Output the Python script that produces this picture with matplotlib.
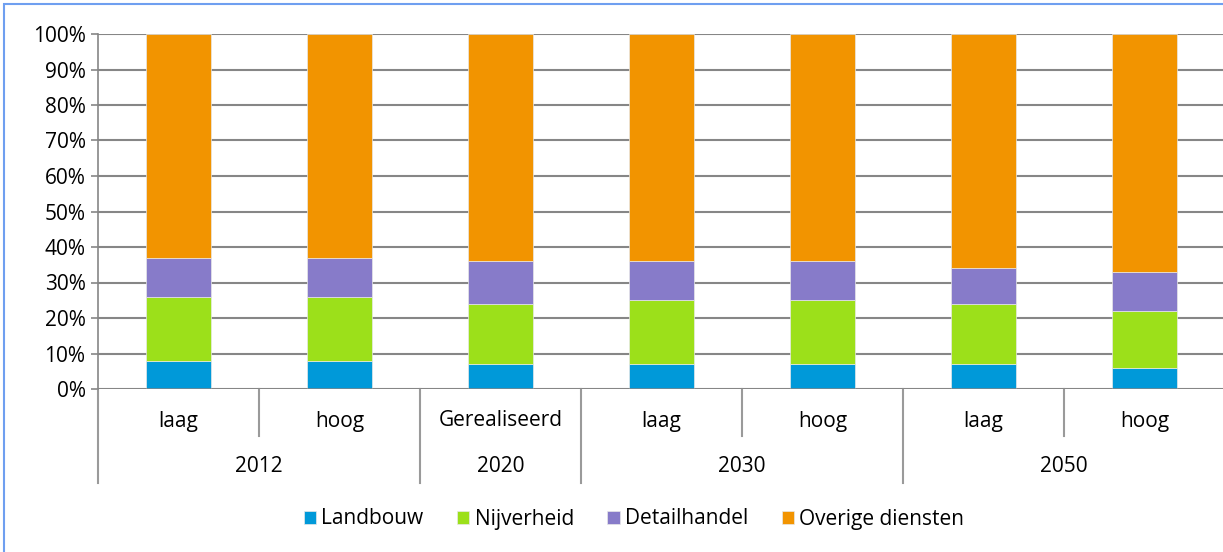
import matplotlib.pyplot as plt
from matplotlib.lines import Line2D
from matplotlib.patches import Rectangle
from matplotlib.ticker import PercentFormatter

plt.rcParams['font.family'] = ['Open Sans', 'DejaVu Sans']

# data (shares in %)
scenarios = ['laag', 'hoog', 'Gerealiseerd', 'laag', 'hoog', 'laag', 'hoog']
years = ['2012', '2020', '2030', '2050']
year_spans = [(0, 2), (2, 3), (3, 5), (5, 7)]
landbouw = [8, 8, 7, 7, 7, 7, 6]
nijverheid = [18, 18, 17, 18, 18, 17, 16]
detailhandel = [11, 11, 12, 11, 11, 10, 11]
overige = [63, 63, 64, 64, 64, 66, 67]

series = [('Landbouw', landbouw, '#0099D9'),
          ('Nijverheid', nijverheid, '#9CE01A'),
          ('Detailhandel', detailhandel, '#877BC9'),
          ('Overige diensten', overige, '#F29400')]

W, H = 1223, 552
FS = 15
fig = plt.figure(figsize=(W / 100, H / 100), dpi=100)
ax = fig.add_axes([98 / W, 1 - 389 / H, 1127 / W, 355 / H])

x = range(len(scenarios))
bottom = [0] * len(scenarios)
for name, vals, color in series:
    ax.bar(x, vals, bottom=bottom, width=0.4, color=color, label=name,
           edgecolor='#e8e8e8', linewidth=0.5, zorder=3)
    bottom = [b + v for b, v in zip(bottom, vals)]

ax.set_xlim(-0.5, len(scenarios) - 0.5)
ax.set_ylim(0, 100)
ax.set_yticks(range(0, 101, 10))
ax.yaxis.set_major_formatter(PercentFormatter(decimals=0))
ax.tick_params(axis='y', labelsize=FS, length=5, color='#868686', width=1.2,
               pad=4)
ax.set_xticks([])
ax.grid(axis='y', color='#868686', linewidth=1.5, zorder=0)
for side in ['top', 'right', 'bottom']:
    ax.spines[side].set_visible(False)
ax.spines['left'].set_color('#868686')
ax.spines['left'].set_linewidth(1.2)
ax.axhline(0, color='#868686', linewidth=1.8, zorder=4)

# two-level category axis
trans = ax.get_xaxis_transform()
px = 1 / 355
for i, lab in enumerate(scenarios):
    ax.text(i, -32 * px, lab, transform=trans, ha='center', va='center',
            fontsize=FS)
major = sorted({s for s, e in year_spans} | {e for s, e in year_spans})
for i in range(len(scenarios) + 1):
    depth = 94 if i in major else 47
    ax.add_line(Line2D([i - 0.5, i - 0.5], [0, -depth * px], transform=trans,
                       color='#9a9a9a', linewidth=1.5, clip_on=False))
for yr, (s, e) in zip(years, year_spans):
    ax.text((s + e - 1) / 2, -78 * px, yr, transform=trans, ha='center',
            va='center', fontsize=FS)

fig.legend(loc='center', bbox_to_anchor=(634 / W, 1 - 519 / H), ncol=4,
           frameon=False, fontsize=FS, handlelength=0.6, handleheight=0.6,
           handletextpad=0.25, columnspacing=1.6)

# chart frame
fig.patches.append(Rectangle((4 / W, -0.1), 1.2, 1 - 4 / H + 0.1,
                             transform=fig.transFigure, fill=False,
                             edgecolor='#6F9FF0', linewidth=1.5))

fig.savefig('out.png', dpi=100)
